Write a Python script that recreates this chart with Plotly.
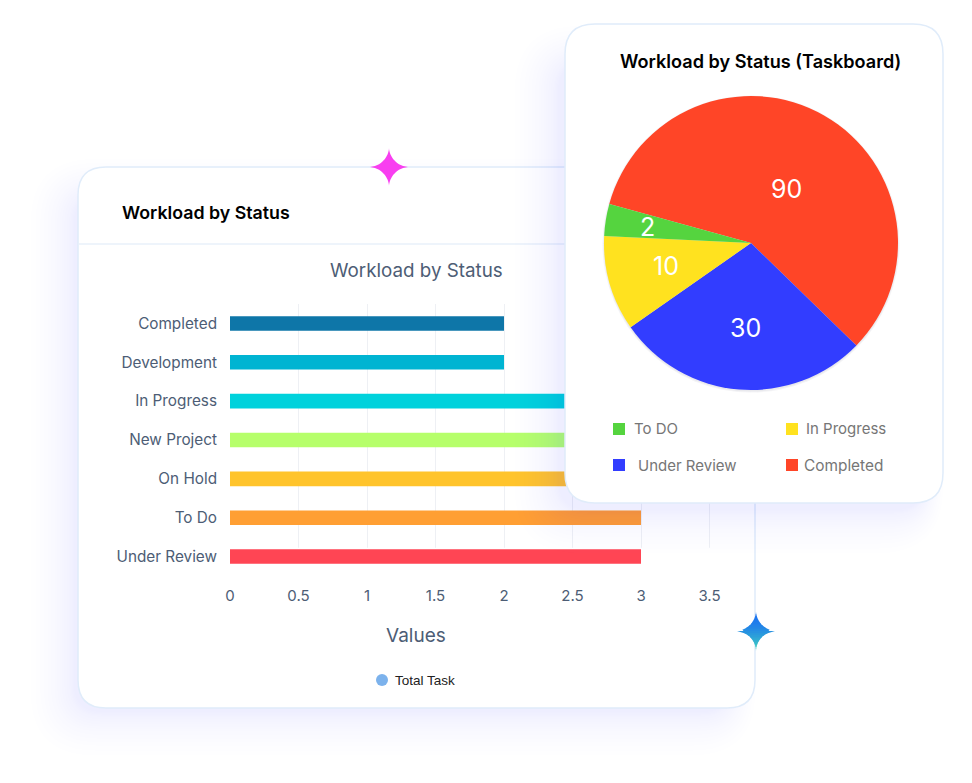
import plotly.graph_objects as go

W, H = 972, 783
FONT = "Inter"

# ---- data ----
categories = ["Completed", "Development", "In Progress", "New Project", "On Hold", "To Do", "Under Review"]
task_values = [2, 2, 3, 3, 3, 3, 3]
bar_colors = ["#0e76a8", "#00b4d2", "#00d2dc", "#b6ff6b", "#ffc42c", "#ff9f33", "#ff4554"]
x_ticks = [0, 0.5, 1, 1.5, 2, 2.5, 3, 3.5]

pie_labels = ["Completed", "Under Review", "In Progress", "To DO"]
pie_numbers = ["90", "30", "10", "2"]          # numbers printed on the slices
pie_sweeps = [208.8, 100.8, 37.7, 12.7]        # slice sizes, in degrees
pie_colors = ["#ff4527", "#323dff", "#ffe21f", "#55d43f"]
pie_number_xy = [(786, 189), (745, 328), (666, 266), (647, 227)]


def py(y):
    return 1 - y / H


def px(x):
    return x / W


def rr(x0, y0, x1, y1, r, paper=False):
    pts = [(x0 + r, y0), (x1 - r, y0), (x1, y0), (x1, y0 + r), (x1, y1 - r), (x1, y1), (x1 - r, y1),
           (x0 + r, y1), (x0, y1), (x0, y1 - r), (x0, y0 + r), (x0, y0), (x0 + r, y0)]
    if paper:
        pts = [(round(px(a), 5), round(py(b), 5)) for a, b in pts]
    p = pts
    return (f"M{p[0][0]},{p[0][1]} L{p[1][0]},{p[1][1]} Q{p[2][0]},{p[2][1]} {p[3][0]},{p[3][1]} "
            f"L{p[4][0]},{p[4][1]} Q{p[5][0]},{p[5][1]} {p[6][0]},{p[6][1]} "
            f"L{p[7][0]},{p[7][1]} Q{p[8][0]},{p[8][1]} {p[9][0]},{p[9][1]} "
            f"L{p[10][0]},{p[10][1]} Q{p[11][0]},{p[11][1]} {p[12][0]},{p[12][1]} Z")


def half_width(t, r):
    p = 0.6
    return r * max(0.0, 1 - abs(t) ** p) ** (1 / p)


def star_solid(cx, cy, r, color, n=40):
    ts = [-1 + 2 * i / n for i in range(n + 1)]
    right = [f"{cx + half_width(t, r):.2f},{cy + t * r:.2f}" for t in ts]
    left = [f"{cx - half_width(t, r):.2f},{cy + t * r:.2f}" for t in reversed(ts)]
    return dict(type="path", xref="x2", yref="y2", layer="above", line_width=0, fillcolor=color,
                path="M" + " L".join(right + left) + " Z")


def star_bands(cx, cy, r, top_rgb, bottom_rgb, n=20):
    out = []
    for i in range(n):
        t0 = -1 + 2 * i / n
        t1 = -1 + 2 * (i + 1) / n
        f = (i / (n - 1)) ** 1.8
        rgb = [round(a + (b - a) * f) for a, b in zip(top_rgb, bottom_rgb)]
        y0, y1 = cy + t0 * r, cy + t1 * r + 0.9
        w0, w1 = half_width(t0, r), half_width(min(t1 + 0.9 / r, 1), r)
        out.append(dict(type="path", xref="x2", yref="y2", layer="above", line_width=0,
                        fillcolor=f"rgb({rgb[0]},{rgb[1]},{rgb[2]})",
                        path=f"M{cx-w0:.2f},{y0:.2f} L{cx+w0:.2f},{y0:.2f} L{cx+w1:.2f},{y1:.2f} L{cx-w1:.2f},{y1:.2f} Z"))
    return out


shapes = []
SHADOW = "rgba(76,119,205,0.0095)"
STEPS = [0, 1, 2, 3, 4, 6, 8, 10, 12, 14, 16, 19, 22, 25, 28, 32, 36]
BORDER = "#e0ecfa"

# card 1 shadow + card (bottom of everything)
for d in STEPS:
    shapes.append(dict(type="path", xref="paper", yref="paper", layer="below", line_width=0, fillcolor=SHADOW,
                       path=rr(74 - 1.2 * d, 195 - d, 730 + 0.7 * d, 712 + 1.2 * d, 28 + d, paper=True)))
shapes.append(dict(type="path", xref="paper", yref="paper", layer="below", fillcolor="white",
                   line=dict(color=BORDER, width=1.5), path=rr(78, 167, 755, 708, 28, paper=True)))
shapes.append(dict(type="line", xref="paper", yref="paper", layer="below", x0=px(78), x1=px(755),
                   y0=py(244), y1=py(244), line=dict(color="#e8f0fa", width=1.5)))

# hides the grid below the last gridline end (the grid stops just above the last bar)
shapes.append(dict(type="rect", xref="x", yref="y", layer="between", x0=-0.1, x1=3.6, y0=5.77, y1=6.5,
                   fillcolor="white", line_width=0))

# card 2 shadow + card sit in the upper subplot, so above the bars but below the pie
for d in STEPS:
    shapes.append(dict(type="path", xref="x2", yref="y2", layer="between", line_width=0, fillcolor=SHADOW,
                       path=rr(558 - 1.2 * d, 62 - d, 925 + 0.5 * d, 510 + 1.2 * d, 30 + d)))
shapes.append(dict(type="path", xref="x2", yref="y2", layer="between", fillcolor="white",
                   line=dict(color=BORDER, width=1.5), path=rr(565, 24, 943, 503, 30)))
for d in (0.5, 1.5):
    shapes.append(dict(type="circle", xref="x2", yref="y2", layer="between", line_width=0,
                       fillcolor="rgba(40,40,70,0.05)",
                       x0=751 - 147 - d, x1=751 + 147 + d, y0=243 - 147 - d + 1, y1=243 + 147 + d + 1))

# sparkles
shapes.append(star_solid(389, 167, 19, "#f83ef0"))
shapes += star_bands(756, 631, 19, (28, 116, 240), (64, 212, 190))

annotations = [
    dict(text="Workload by Status", x=px(120), y=py(212), xanchor="left", yanchor="middle",
         font=dict(family=FONT, size=17.8, color="black", weight=600)),
    dict(text="Workload by Status", x=px(416), y=py(271), xanchor="center", yanchor="middle",
         font=dict(family=FONT, size=18.8, color="#4d5d75")),
    dict(text="Values", x=px(416), y=py(635), xanchor="center", yanchor="middle",
         font=dict(family=FONT, size=19, color="#4d5d75")),
    dict(text="Total Task", x=px(393), y=py(680), xanchor="left", yanchor="middle",
         font=dict(family="Liberation Sans", size=13.5, color="#222222")),
    dict(text="Workload by Status (Taskboard)", x=px(760), y=py(61), xanchor="center", yanchor="middle",
         font=dict(family=FONT, size=18.1, color="black", weight=600)),
    dict(text="To DO", x=px(632), y=py(428), xanchor="left", yanchor="middle",
         font=dict(family=FONT, size=15, color="#767676")),
    dict(text="In Progress", x=px(804), y=py(429), xanchor="left", yanchor="middle",
         font=dict(family=FONT, size=15, color="#767676")),
    dict(text="Under Review", x=px(636), y=py(466), xanchor="left", yanchor="middle",
         font=dict(family=FONT, size=15, color="#767676")),
    dict(text="Completed", x=px(802), y=py(466), xanchor="left", yanchor="middle",
         font=dict(family=FONT, size=15.4, color="#767676")),
]
for num, (nx, ny) in zip(pie_numbers, pie_number_xy):
    annotations.append(dict(text=num, x=px(nx), y=py(ny), xanchor="center", yanchor="middle",
                            font=dict(family=FONT, size=25, color="white")))
for a in annotations:
    a.update(xref="paper", yref="paper", showarrow=False)

fig = go.Figure()
fig.add_trace(go.Bar(y=categories, x=task_values, orientation="h", marker=dict(color=bar_colors, line_width=0),
                     width=0.375, hoverinfo="skip", showlegend=False, xaxis="x", yaxis="y"))
# legend markers live in the upper subplot
fig.add_trace(go.Scatter(x=[619, 792, 619, 792, 382], y=[429, 429, 465, 465, 680], mode="markers",
                         marker=dict(symbol=["square"] * 4 + ["circle"], size=12, opacity=1,
                                     color=[pie_colors[3], pie_colors[2], pie_colors[1], pie_colors[0], "#7cb2ec"]),
                         hoverinfo="skip", showlegend=False, xaxis="x2", yaxis="y2"))
fig.add_trace(go.Pie(labels=pie_labels, values=pie_sweeps, textinfo="none",
                     sort=False, direction="clockwise", rotation=285.4,
                     marker=dict(colors=pie_colors, line_width=0),
                     domain=dict(x=[px(604), px(898)], y=[py(390), py(96)]),
                     hoverinfo="skip", showlegend=False))

fig.update_layout(
    width=W, height=H, margin=dict(l=0, r=0, t=0, b=0, autoexpand=False), autosize=False,
    paper_bgcolor="white", plot_bgcolor="rgba(0,0,0,0)", showlegend=False,
    shapes=shapes, annotations=annotations,
    xaxis=dict(domain=[px(230), px(230 + 137 * 3.55)], range=[0, 3.55], tickvals=x_ticks,
               ticktext=[str(t) for t in x_ticks], showgrid=True, gridcolor="#eef0f4", gridwidth=1,
               zeroline=False, showline=False, ticks="", ticklabelstandoff=9,
               tickfont=dict(family=FONT, size=15, color="#4d5d75"), anchor="y"),
    yaxis=dict(domain=[py(576), py(304)], autorange="reversed", type="category", categoryorder="array",
               categoryarray=categories, showgrid=False, zeroline=False, showline=False, ticks="",
               ticklabelstandoff=12, tickfont=dict(family=FONT, size=15.3, color="#4d5d75"), anchor="x"),
    xaxis2=dict(domain=[0, 1], range=[0, W], visible=False, anchor="y2", fixedrange=True),
    yaxis2=dict(domain=[0, 1], range=[H, 0], visible=False, anchor="x2", fixedrange=True),
)

fig.write_html("out.html", config=dict(displayModeBar=False),
               post_script="document.body.style.margin='0';document.body.style.overflow='hidden';")
